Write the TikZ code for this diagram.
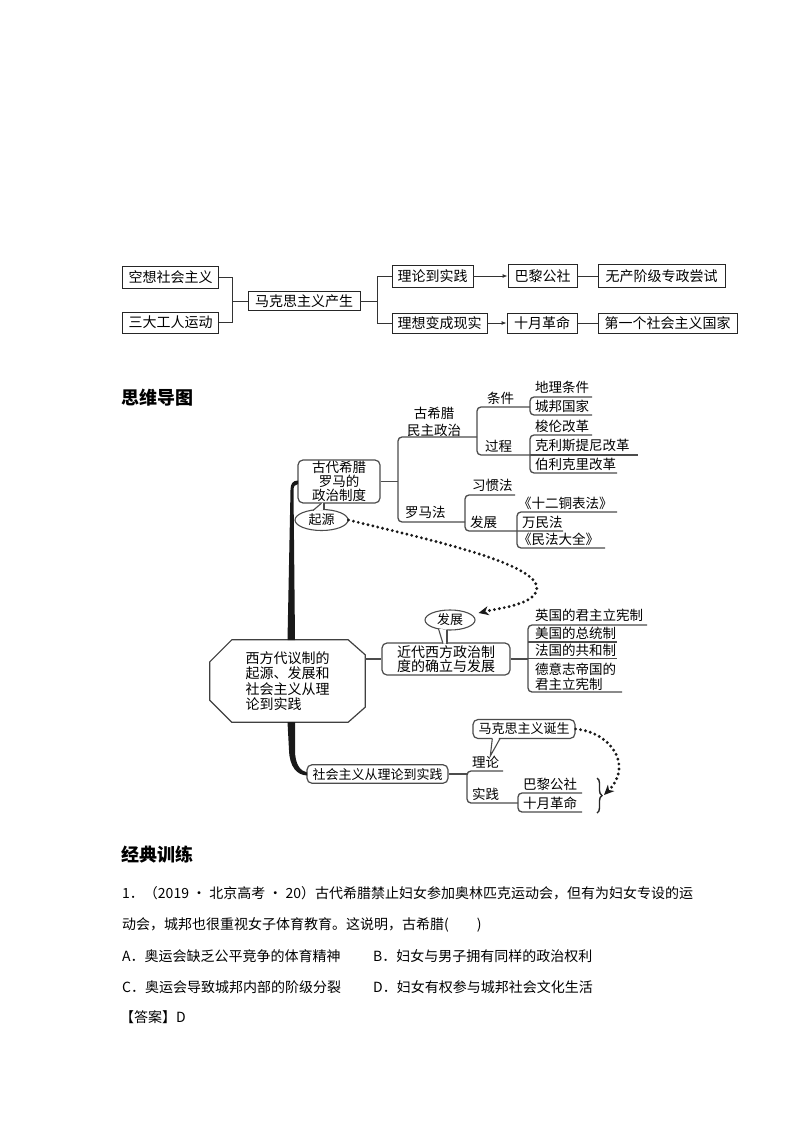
\documentclass[tikz,border=0pt]{standalone}
\usepackage{fontspec}
\newfontfamily\cjk{Noto Sans CJK SC}
\usetikzlibrary{shapes.geometric,arrows.meta,decorations.pathreplacing}
\begin{document}
\begin{tikzpicture}[x=1pt,y=-1pt, font=\cjk,
 tbox/.style={draw=black!85, line width=0.9pt, inner sep=0pt, font=\cjk\fontsize{14}{16}\selectfont},
 ln/.style={draw=black!80, line width=0.9pt},
 mm/.style={draw=black!70, line width=1.3pt, rounded corners=4pt},
 lbl/.style={anchor=west, inner sep=0pt, font=\cjk\fontsize{13.5}{15}\selectfont},
 rbox/.style={draw=black!70, line width=1.2pt, rounded corners=5pt, inner sep=0pt, font=\cjk\fontsize{13.5}{14}\selectfont},
 bub/.style={ellipse, draw=black!70, line width=1.1pt, inner sep=0pt, fill=white, font=\cjk\fontsize{13}{14}\selectfont},
 tail/.style={draw=black!70, line width=1.1pt},
 dotarrow/.style={draw=black!90, line width=3.2pt, dash pattern=on 0pt off 5pt, line cap=round, -{Stealth[length=10pt,width=9pt,inset=3pt]}},
 head/.style={anchor=west, inner sep=0pt, font=\cjk\bfseries\fontsize{18}{20}\selectfont},
 q/.style={anchor=west, inner sep=0pt, font=\cjk\fontsize{14}{16}\selectfont},
]
\useasboundingbox[fill=white] (0,0) rectangle (794,1123);

% ---------- top flowchart ----------
\node[tbox, minimum width=96, minimum height=22] (a1) at (170.5,277) {空想社会主义};
\node[tbox, minimum width=96, minimum height=21] (a2) at (170.5,322.5) {三大工人运动};
\node[tbox, minimum width=112, minimum height=19] (b) at (304,301) {马克思主义产生};
\node[tbox, minimum width=81, minimum height=22] (c1) at (432.5,276) {理论到实践};
\node[tbox, minimum width=95, minimum height=20] (c2) at (439.5,323) {理想变成现实};
\node[tbox, minimum width=69, minimum height=23] (d1) at (542.5,276) {巴黎公社};
\node[tbox, minimum width=70, minimum height=20] (d2) at (542,323) {十月革命};
\node[tbox, minimum width=127, minimum height=23] (e1) at (661.5,276) {无产阶级专政尝试};
\node[tbox, minimum width=139, minimum height=20] (e2) at (667.5,323) {第一个社会主义国家};
\coordinate (j1) at (232,301);
\coordinate (j2) at (377,301);
\draw[ln] (a1.east) -| (j1) -- (b.west);
\draw[ln] (a2.east) -| (j1);
\draw[ln] (b.east) -- (j2);
\draw[ln] (j2) |- (c1.west);
\draw[ln] (j2) |- (c2.west);
\draw[ln, -{Latex[length=5pt,width=4pt]}] (c1) -- (d1);
\draw[ln, -{Latex[length=5pt,width=4pt]}] (c2) -- (d2);
\draw[ln] (d1) -- (e1);
\draw[ln] (d2) -- (e2);

% ---------- mind map ----------
\node[head] (h1) at (121,398) {思维导图};

% root octagon
\node[minimum width=155, minimum height=82, inner sep=0pt, align=left, font=\cjk\fontsize{14}{15.5}\selectfont] (root) at (287.5,681) {西方代议制的\\起源、发展和\\社会主义从理\\论到实践};
\draw[black!75, line width=1.2pt] ([xshift=22pt]root.north west) -- ([xshift=-17pt]root.north east) -- ([yshift=-15pt]root.north east) -- ([yshift=15pt]root.south east) -- ([xshift=-17pt]root.south east) -- ([xshift=22pt]root.south west) -- ([yshift=22pt]root.south west) -- ([yshift=-22pt]root.north west) -- cycle;

% first-level boxes
\node[rbox, minimum width=82, minimum height=43, align=center] (g) at (339,481.5) {古代希腊\\罗马的\\政治制度};
\node[rbox, minimum width=128, minimum height=32, align=left, font=\cjk\fontsize{14}{14.5}\selectfont] (jd) at (446,659) {近代西方政治制\\度的确立与发展};
\node[rbox, minimum width=141, minimum height=18.5, font=\cjk\fontsize{13}{14}\selectfont] (sh) at (377.5,774) {社会主义从理论到实践};

% trunk
\fill[black!90] (298,480.5) .. controls (292.5,480.5) and (290.5,484) .. (290.5,490) -- (287.5,640) -- (295,640) -- (293.5,490) .. controls (293.5,486.5) and (295,484) .. (298,484) -- cycle;
\fill[black!90] (287.5,722) -- (295,722) -- (295,750) .. controls (295,764) and (300,771) .. (307,772.5) -- (307,775.5) .. controls (297,775) and (289.5,767) .. (289,750) -- cycle;

% bubbles
\node[bub, minimum width=53, minimum height=21] (qy) at (321.5,520) {起源};
\fill[white] (313.5,511) -- (321.5,502.8) -- (323.5,502.8) -- (323.5,510) -- cycle;
\draw[tail] (313,510.5) -- (321.5,503.2);
\draw[tail] (324,509.8) -- (324,503.2);
\node[bub, minimum width=50, minimum height=20] (fz) at (450,620) {发展};
\fill[white] (439,629) -- (443,643.5) -- (446.5,643.5) -- (446.5,629.5) -- cycle;
\draw[tail] (438.5,628.8) -- (443,643.6);
\draw[tail] (447,629.6) -- (447,643.6);
\node[rbox, minimum width=102, minimum height=19, font=\cjk\fontsize{13}{14}\selectfont] (mk) at (524,729) {马克思主义诞生};
\fill[white] (492.5,737) -- (490.5,754) -- (499.5,737) -- cycle;
\draw[tail] (492.3,738.6) -- (490.3,756) -- (500,738.6);

% branch: ancient
\coordinate (m1) at (398,481.5);
\draw[mm] (g.east) -- (m1);
\draw[mm] (477,437) -- (398,437) -- (398,522) -- (465,522);
\node[lbl, anchor=center, align=center, font=\cjk\fontsize{13.5}{16.5}\selectfont] (gx) at (434,422) {古希腊\\民主政治};
\node[lbl] (lmf) at (405,512) {罗马法};
\draw[mm] (530,407) -- (477,407) -- (477,455) -- (530,455);
\node[lbl] (tj) at (487,398) {条件};
\node[lbl] (gc) at (485,446) {过程};
\draw[mm] (592,397) -- (530,397) -- (530,415) -- (592,415);
\node[lbl] (t1) at (535,387) {地理条件};
\node[lbl] (t2) at (535,406) {城邦国家};
\draw[mm] (592,435) -- (530,435) -- (530,473) -- (617,473);
\draw[mm] (530,455) -- (638,455);
\node[lbl] (p1) at (535,426) {梭伦改革};
\node[lbl] (p2) at (535,445) {克利斯提尼改革};
\node[lbl] (p3) at (535,464) {伯利克里改革};
\draw[mm] (515,495) -- (465,495) -- (465,531) -- (563,531);
\node[lbl] (xg) at (472,485) {习惯法};
\node[lbl] (fzz) at (470,522) {发展};
\draw[mm] (617,512) -- (517,512) -- (517,548) -- (605,548);
\node[lbl] (r1) at (518,503) {《十二铜表法》};
\node[lbl] (r2) at (522,522) {万民法};
\node[lbl] (r3) at (518,539) {《民法大全》};

% branch: modern
\draw[mm] (jd.west -| root.east) -- (jd.west);
\coordinate (m3) at (528,659);
\draw[mm] (jd.east) -- (m3);
\draw[mm] (647,625) -- (528,625) -- (528,692) -- (622,692);
\draw[mm] (528,642) -- (617,642);
\draw[mm] (528,658.5) -- (617,658.5);
\node[lbl] (s1) at (535,615) {英国的君主立宪制};
\node[lbl] (s2) at (535,633) {美国的总统制};
\node[lbl] (s3) at (535,650) {法国的共和制};
\node[lbl, align=left] (s4) at (535,677) {德意志帝国的\\君主立宪制};

% branch: socialism
\coordinate (m4) at (467,774);
\draw[mm] (sh.east) -- (m4);
\draw[mm] (503,771) -- (467,771) -- (467,803) -- (518,803);
\node[lbl] (ll) at (472,762) {理论};
\node[lbl] (sj) at (472,794) {实践};
\draw[mm] (582,793) -- (518,793) -- (518,812) -- (582,812);
\node[lbl] (u1) at (523,784) {巴黎公社};
\node[lbl] (u2) at (523,803) {十月革命};
\draw[black!85, line width=1.4pt, decorate, decoration={brace, amplitude=5pt}] (597,778) -- (597,813);
\coordinate (brc) at (604,795);

% dotted arrows
\draw[dotarrow] (qy.east) .. controls (430,540) and (548,565) .. (536,592) .. controls (530,605) and (500,608) .. ([shift={(3pt,7pt)}]fz.east);
\draw[dotarrow] (mk.east) .. controls (610,732) and (634,765) .. (brc);

% ---------- exercise ----------
\node[head] (h2) at (121,855) {经典训练};
\node[q] (q1) at (122,893) {1．（2019 · 北京高考 · 20）古代希腊禁止妇女参加奥林匹克运动会，但有为妇女专设的运};
\node[q] (q2) at (122,925) {动会，城邦也很重视女子体育教育。这说明，古希腊(\quad\quad)};
\node[q] (qa) at (122,956) {A．奥运会缺乏公平竞争的体育精神};
\node[q] (qb) at (373,956) {B．妇女与男子拥有同样的政治权利};
\node[q] (qc) at (122,987) {C．奥运会导致城邦内部的阶级分裂};
\node[q] (qd) at (373,987) {D．妇女有权参与城邦社会文化生活};
\node[q] (ans) at (120,1017) {【答案】D};
\end{tikzpicture}
\end{document}
